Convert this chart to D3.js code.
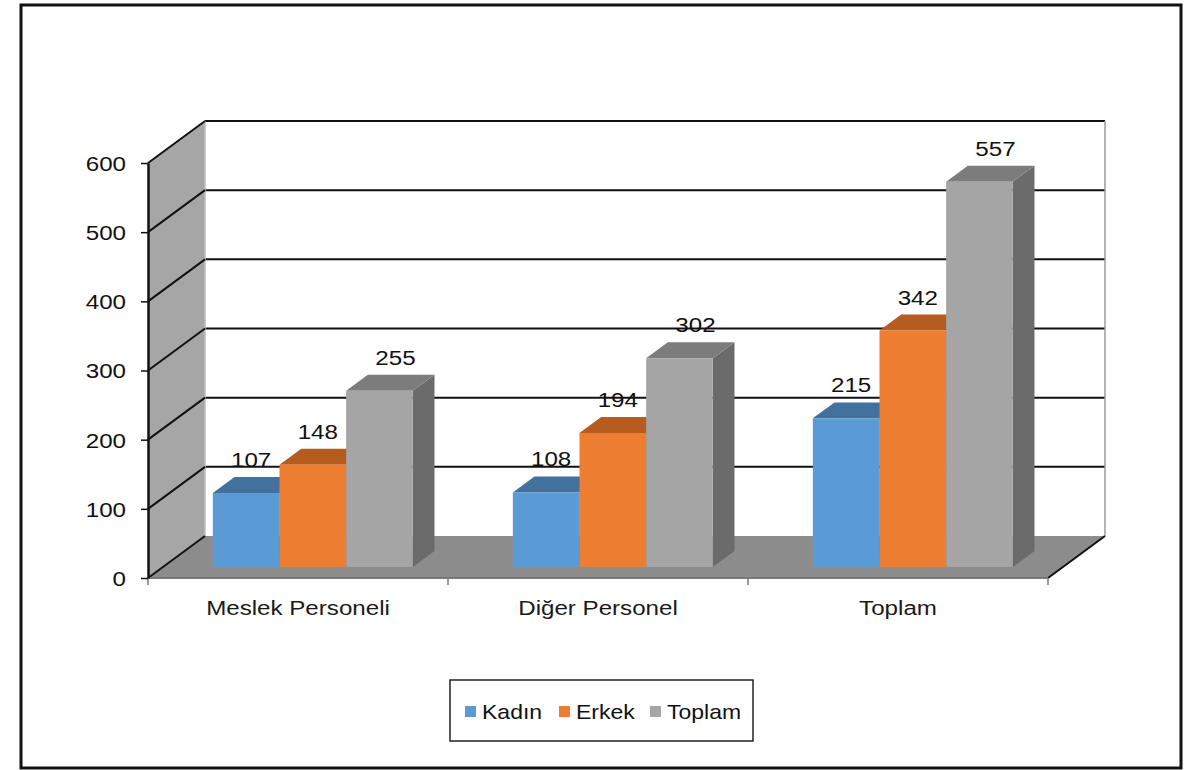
<!DOCTYPE html>
<html>
<head>
<meta charset="utf-8">
<script src="https://cdn.jsdelivr.net/npm/d3@7"></script>
<style>
  html, body { margin: 0; padding: 0; background: #fff; }
  svg { display: block; font-family: "Liberation Sans", Arial, sans-serif; }
</style>
</head>
<body>
<div id="chart"></div>
<script>
// chart data
const categories = ['Meslek Personeli', 'Diğer Personel', 'Toplam']
const seriesNames = ['Kadın', 'Erkek', 'Toplam']
const kadin = [107, 108, 215]
const erkek = [148, 194, 342]
const toplam = [255, 302, 557]
const yTicks = [0, 100, 200, 300, 400, 500, 600]

const seriesValues = [kadin, erkek, toplam]
const colors = [
  { front: '#5b9bd5', top: '#41719c', side: '#3d6a94' },
  { front: '#ed7d31', top: '#b65c1f', side: '#a9551c' },
  { front: '#a5a5a5', top: '#7c7c7c', side: '#6b6b6b' }
]

const W = 1201, H = 770
const DX = 57, DY = 42          // depth offset of the back wall
const d1 = 0.26, d2 = 0.64      // bar depth (front / back), as a fraction of DX/DY
const SX = 1.15                 // the source picture is a little stretched sideways

const svg = d3.select('#chart').append('svg').attr('width', W).attr('height', H)

// put a text at (px, py), stretched horizontally around its anchor
function stretched(sel, px, py) {
  sel.attr('transform', (d, i, n) => {
    const a = typeof px === 'function' ? px(d, i, n) : px
    const b = typeof py === 'function' ? py(d, i, n) : py
    return `translate(${a},${b}) scale(${SX},1)`
  })
}

// outer frame
svg.append('rect').attr('x', 21).attr('y', 5).attr('width', 1160).attr('height', 763)
  .attr('fill', '#fff').attr('stroke', '#111').attr('stroke-width', 3)

const x = d3.scaleBand().domain(categories).range([148, 1048]).padding(0)
const xs = d3.scaleBand().domain(seriesNames).range([0, x.bandwidth()]).paddingInner(0).paddingOuter(0.75)
const y = d3.scaleLinear().domain([0, 600]).range([578, 163])

// projection: front x, value, depth -> screen point
const P = (xf, v, d) => [xf + d * DX, y(v) - d * DY]
const poly = pts => pts.map(p => p.join(',')).join(' ')

const x0 = x.range()[0], x1 = x.range()[1]

// back wall gridlines
svg.append('g').selectAll('line').data(yTicks.filter(t => t > 0)).join('line')
  .attr('x1', x0 + DX).attr('x2', x1 + DX)
  .attr('y1', d => y(d) - DY).attr('y2', d => y(d) - DY)
  .attr('stroke', '#111').attr('stroke-width', 2)
svg.append('line').attr('x1', x1 + DX).attr('x2', x1 + DX)
  .attr('y1', y(600) - DY).attr('y2', y(0) - DY)
  .attr('stroke', '#9a9a9a').attr('stroke-width', 1.5)

// left side wall
svg.append('polygon')
  .attr('points', poly([P(x0, 0, 0), P(x0, 600, 0), P(x0, 600, 1), P(x0, 0, 1)]))
  .attr('fill', '#a6a6a6')
svg.append('line').attr('x1', x0 + DX).attr('x2', x0 + DX)
  .attr('y1', y(600) - DY).attr('y2', y(0) - DY)
  .attr('stroke', '#bdbdbd').attr('stroke-width', 1.5)

// floor
svg.append('polygon')
  .attr('points', poly([P(x0, 0, 0), P(x1, 0, 0), P(x1, 0, 1), P(x0, 0, 1)]))
  .attr('fill', '#8c8c8c')

// side wall gridlines
svg.append('g').selectAll('line').data(yTicks).join('line')
  .attr('x1', x0).attr('y1', d => y(d))
  .attr('x2', x0 + DX).attr('y2', d => y(d) - DY)
  .attr('stroke', '#111').attr('stroke-width', 2)

// floor right edge
svg.append('line')
  .attr('x1', x1).attr('y1', y(0)).attr('x2', x1 + DX).attr('y2', y(0) - DY)
  .attr('stroke', '#111').attr('stroke-width', 2)

// bars
const bars = []
categories.forEach((c, ci) => {
  seriesNames.forEach((s, si) => {
    bars.push({ cat: c, series: s, si, value: seriesValues[si][ci] })
  })
})

const barG = svg.append('g').selectAll('g').data(bars).join('g')
barG.each(function (d) {
  const g = d3.select(this)
  const xa = x(d.cat) + xs(d.series)
  const xb = xa + xs.bandwidth()
  const col = colors[d.si]
  // side face
  g.append('polygon')
    .attr('points', poly([P(xb, 0, d1), P(xb, d.value, d1), P(xb, d.value, d2), P(xb, 0, d2)]))
    .attr('fill', col.side)
  // top face
  g.append('polygon')
    .attr('points', poly([P(xa, d.value, d1), P(xb, d.value, d1), P(xb, d.value, d2), P(xa, d.value, d2)]))
    .attr('fill', col.top)
  // front face
  g.append('polygon')
    .attr('points', poly([P(xa, 0, d1), P(xb, 0, d1), P(xb, d.value, d1), P(xa, d.value, d1)]))
    .attr('fill', col.front)
})

// value labels
const vl = svg.append('g').selectAll('text').data(bars).join('text')
  .attr('text-anchor', 'middle')
  .attr('fill', '#111')
  .style('font-size', '21px')
  .text(d => d.value)
stretched(vl,
  d => x(d.cat) + xs(d.series) + xs.bandwidth() / 2 + d1 * DX + (d.si === 2 ? 16 : 5),
  d => y(d.value) - d2 * DY - 10)

// floor front edge / x axis
svg.append('line').attr('x1', x0).attr('x2', x1).attr('y1', y(0)).attr('y2', y(0))
  .attr('stroke', '#7a7a7a').attr('stroke-width', 2)
const xTickPos = categories.map(c => x(c)).concat([x1])
svg.append('g').selectAll('line').data(xTickPos).join('line')
  .attr('x1', d => d).attr('x2', d => d).attr('y1', y(0)).attr('y2', y(0) + 7)
  .attr('stroke', '#7a7a7a').attr('stroke-width', 1.5)
const cl = svg.append('g').selectAll('text').data(categories).join('text')
  .attr('text-anchor', 'middle')
  .attr('fill', '#1a1a1a')
  .style('font-size', '21px')
  .text(d => d)
stretched(cl, d => x(d) + x.bandwidth() / 2, 615)

// y axis
const yAxis = d3.axisLeft(y).tickValues(yTicks).tickSize(7).tickPadding(14).tickSizeOuter(0)
const ya = svg.append('g').attr('transform', `translate(${x0},0)`).call(yAxis)
ya.select('.domain').attr('stroke', '#111').attr('stroke-width', 2.5)
ya.selectAll('.tick line').attr('stroke', '#111').attr('stroke-width', 1.5)
ya.selectAll('.tick text')
  .attr('x', null).attr('dy', '0.35em')
  .attr('fill', '#111').style('font-size', '21px')
  .style('font-family', '"Liberation Sans", Arial, sans-serif')
  .attr('transform', `translate(-22,0) scale(${SX},1)`)

// legend
const lg = svg.append('g')
lg.append('rect').attr('x', 450).attr('y', 680).attr('width', 303).attr('height', 61)
  .attr('fill', '#fff').attr('stroke', '#222').attr('stroke-width', 1.5)
const legendX = [465, 559, 650]
seriesNames.forEach((s, i) => {
  lg.append('rect').attr('x', legendX[i]).attr('y', 706).attr('width', 11).attr('height', 11)
    .attr('fill', colors[i].front)
  lg.append('text').attr('fill', '#111').style('font-size', '20px').text(s)
    .call(stretched, legendX[i] + 17, 719)
})
</script>
</body>
</html>
